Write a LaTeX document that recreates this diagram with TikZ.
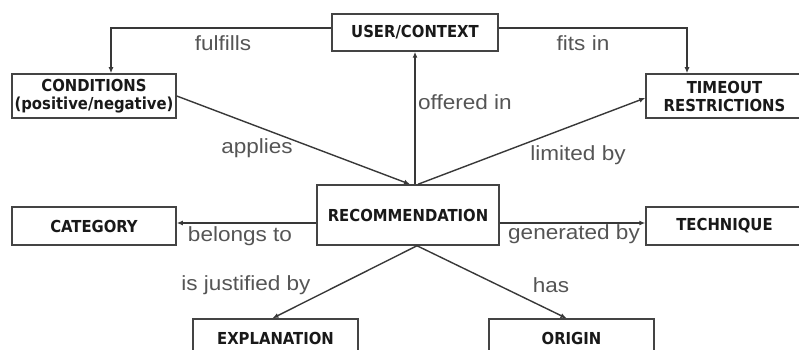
\documentclass[tikz,border=0pt]{standalone}
\usepackage{fontspec}
\setmainfont{Liberation Sans}
\newfontfamily\relfont[FakeStretch=1.1]{Liberation Sans}
\newfontfamily\entfont{DejaVu Sans Condensed}
\usetikzlibrary{arrows.meta,calc}
\definecolor{linegray}{HTML}{383838}
\definecolor{boxgray}{HTML}{444444}
\definecolor{labelgray}{HTML}{555555}
\tikzset{
  entity/.style={draw=boxgray, line width=1.5pt, fill=white, inner sep=0pt,
    align=center, font=\entfont\fontsize{16.5}{18}\selectfont\bfseries, text=black!90},
  relation/.style={font=\relfont\fontsize{20.5}{22}\selectfont, text=labelgray, inner sep=0pt},
  link/.style={draw=linegray, line width=1.4pt, -{Latex[length=6pt,width=5pt]}},
}
\begin{document}
\begin{tikzpicture}[x=1pt,y=-1pt]
\useasboundingbox (0,0) rectangle (799,350);
\clip (0,0) rectangle (799,350);
\fill[white] (0,0) rectangle (799,350);

% entities
\node[entity, minimum width=166pt, minimum height=37pt] (user) at (415,32.5) {USER/CONTEXT};
\node[entity, minimum width=164pt, minimum height=44pt] (cond) at (94,96) {CONDITIONS\\(positive/negative)};
\node[entity, minimum width=157pt, minimum height=44pt] (time) at (724.5,96) {TIMEOUT\\RESTRICTIONS};
\node[entity, minimum width=182pt, minimum height=60pt] (rec) at (408,215) {RECOMMENDATION};
\node[entity, minimum width=164pt, minimum height=38pt] (cat) at (94,226) {CATEGORY};
\node[entity, minimum width=157pt, minimum height=38pt] (tech) at (724.5,226) {TECHNIQUE};
\node[entity, minimum width=165pt, minimum height=38pt] (expl) at (275.5,338) {EXPLANATION};
\node[entity, minimum width=165pt, minimum height=38pt] (orig) at (571.5,338) {ORIGIN};

% relations
\draw[link] ([yshift=4.5pt]user.west) -| ([xshift=17pt]cond.north);
\draw[link] ([yshift=4.5pt]user.east) -| ([xshift=-37.5pt]time.north);
\draw[link] ([xshift=7pt]rec.north) -- (user.south);
\draw[link] (cond.east) -- ([xshift=2pt]rec.north);
\draw[link] ([xshift=10pt]rec.north) -- ([yshift=-2pt]time.west);
\draw[link] ([yshift=-8pt]rec.west) -- ([yshift=-8pt]rec.west -| cat.east);
\draw[link] ([yshift=-8pt]rec.east) -- ([yshift=-8pt]rec.east -| tech.west);
\draw[link] ([xshift=9pt]rec.south) -- ([xshift=-3pt]expl.north);
\draw[link] ([xshift=9pt]rec.south) -- ([xshift=-5pt]orig.north);

% relation labels
\node[relation] (lfulfills) at (223,43) {fulfills};
\node[relation] (lfits) at (583,43) {fits in};
\node[relation] (loffered) at (465,102) {offered in};
\node[relation] (lapplies) at (257,148) {applies};
\node[relation] (llimited) at (578,155) {limited by};
\node[relation] (lbelongs) at (240,236) {belongs to};
\node[relation] (lgenerated) at (574,234) {generated by};
\node[relation] (ljustified) at (246,285) {is justified by};
\node[relation] (lhas) at (551,285) {has};
\end{tikzpicture}
\end{document}
